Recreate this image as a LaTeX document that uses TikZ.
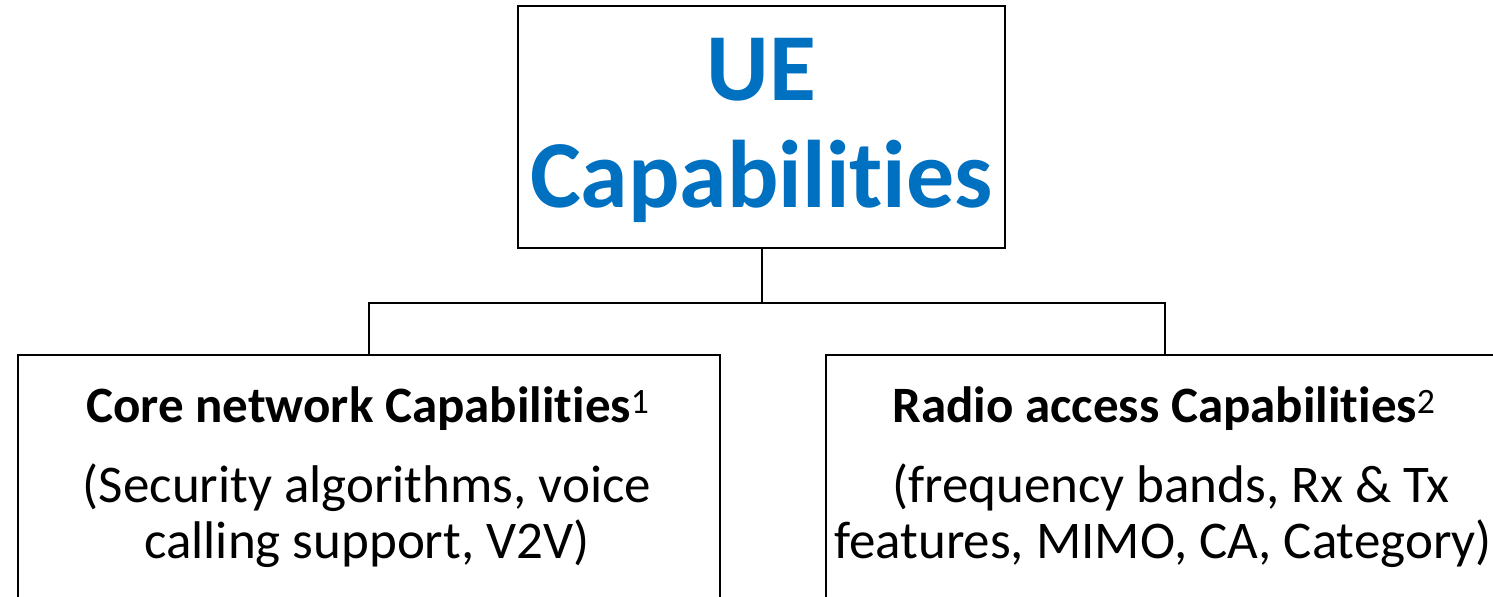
\documentclass[tikz,border=0pt]{standalone}
\usepackage{fontspec}
\setmainfont[Ligatures=NoCommon]{Carlito}
\definecolor{ueblue}{HTML}{0070C0}
\tikzset{
  boxnode/.style={draw=black, line width=1.8bp, rectangle, inner sep=0pt},
  conn/.style={draw=black, line width=1.8bp},
  bigtitle/.style={anchor=base, inner sep=0pt, text=ueblue, font=\fontsize{96bp}{107bp}\selectfont\bfseries},
  headtext/.style={anchor=base, inner sep=0pt, font=\fontsize{51bp}{56bp}\selectfont\bfseries},
  bodytext/.style={anchor=base, inner sep=0pt, font=\fontsize{53bp}{58bp}\selectfont},
}
\begin{document}
\begin{tikzpicture}[x=1bp,y=-1bp]
\useasboundingbox (0,0) rectangle (1493,597);
% boxes
\node[boxnode, minimum width=487bp, minimum height=242bp] (top) at (761.5,127) {};
\node[boxnode, minimum width=702bp, minimum height=300bp] (core) at (369,505) {};
\node[boxnode, minimum width=678bp, minimum height=300bp] (radio) at (1165,505) {};
% connectors
\coordinate (j) at (762,303);
\draw[conn] (top.south -| j) -- (j);
\draw[conn] (core.north) -- (core.north |- j) -- (radio.north |- j) -- (radio.north);
% texts
\node[bigtitle] (t1) at (761.5,101) {UE};
\node[bigtitle] (t2) at (761.5,208) {Capabilities};
\node[headtext] (h1) at (368,422) {Core network Capabilities{\mdseries\textsuperscript{1}}};
\node[bodytext] (c1) at (367,502) {(Security algorithms, voice};
\node[bodytext] (c2) at (367,558) {calling support, V2V)};
\node[headtext] (h2) at (1164,422) {Radio access Capabilities{\mdseries\textsuperscript{2}}};
\node[bodytext] (r1) at (1171,502) {(frequency bands, Rx \& Tx};
\node[bodytext] (r2) at (1163,558) {features, MIMO, CA, Category)};
\end{tikzpicture}
\end{document}
